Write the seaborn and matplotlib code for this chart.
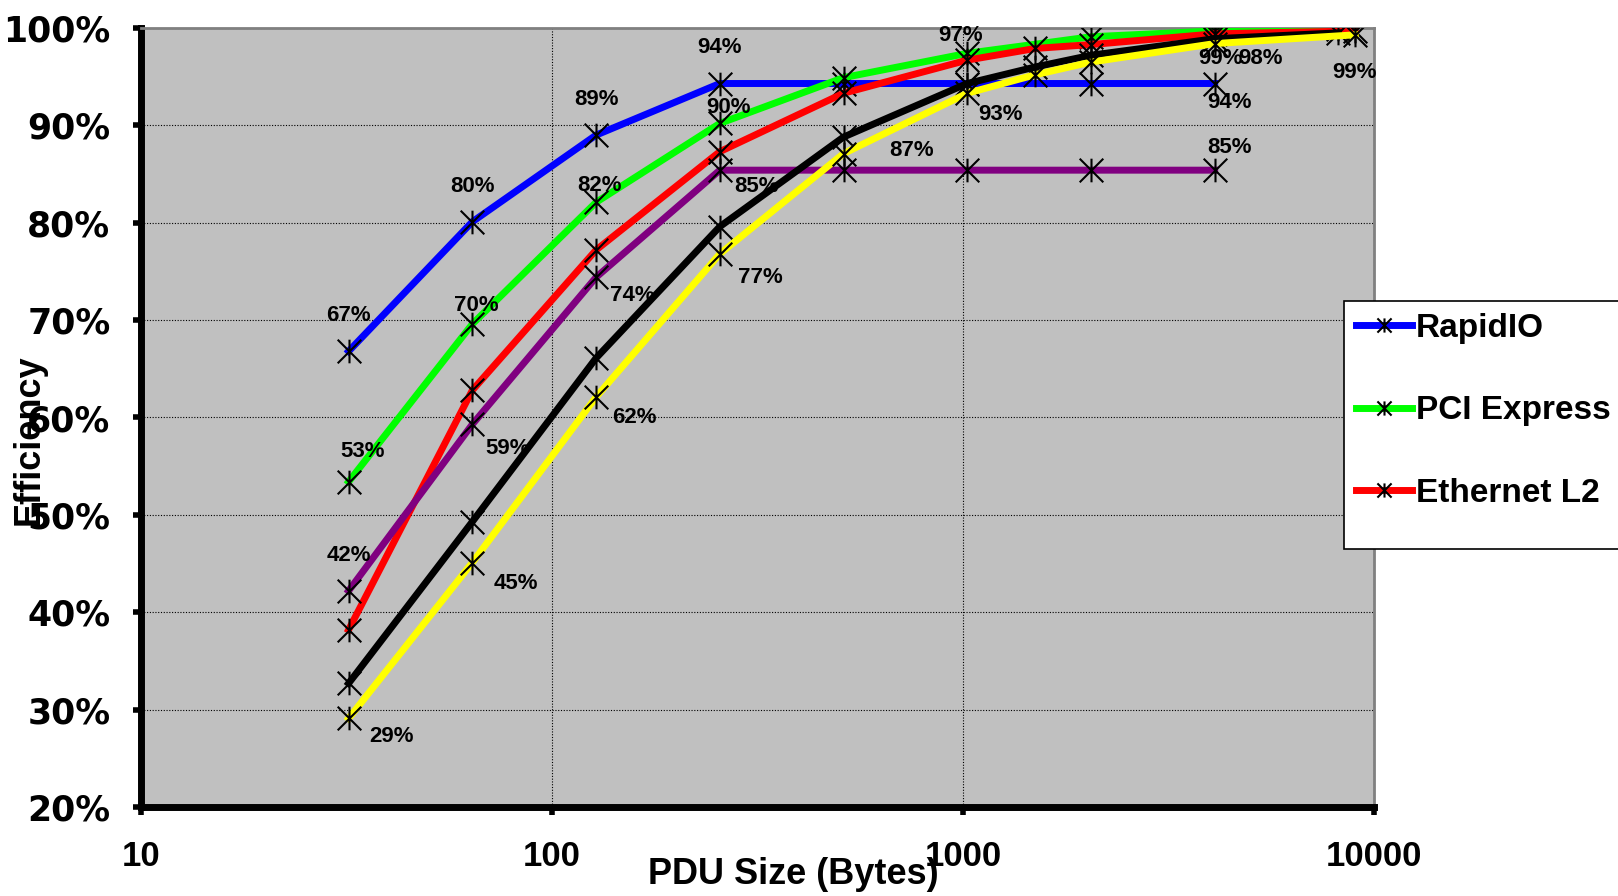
import matplotlib
matplotlib.use("Agg")
from matplotlib import pyplot as plt
from matplotlib.path import Path
from matplotlib.patches import Rectangle
from matplotlib.ticker import FixedLocator, FuncFormatter, NullLocator
import seaborn as sns

# PDU size (bytes) and efficiency (%) per series
rapidio_x = [32, 64, 128, 256, 512, 1024, 2048, 4096]
rapidio_y = [66.8, 80.1, 89.0, 94.3, 94.3, 94.3, 94.3, 94.3]

pcie_x = [32, 64, 128, 256, 512, 1024, 2048, 4096, 8192]
pcie_y = [53.4, 69.6, 82.1, 90.2, 94.9, 97.4, 99.1, 99.7, 99.9]

eth_x = [32, 64, 128, 256, 512, 1024, 1500, 2048, 4096, 9000]
eth_y = [38.2, 62.8, 77.2, 87.3, 93.3, 96.7, 97.9, 98.3, 99.4, 99.7]

purple_x = [32, 64, 128, 256, 512, 1024, 2048, 4096]
purple_y = [42.2, 59.3, 74.4, 85.4, 85.4, 85.4, 85.4, 85.4]

black_x = [32, 64, 128, 256, 512, 1024, 1500, 2048, 4096, 8192]
black_y = [32.7, 49.3, 66.1, 79.6, 88.8, 94.3, 96.0, 97.2, 98.9, 99.5]

yellow_x = [32, 64, 128, 256, 512, 1024, 1500, 2048, 4096, 9000]
yellow_y = [29.1, 45.1, 62.1, 76.8, 87.1, 93.3, 95.2, 96.5, 98.4, 99.3]

legend_names = ["RapidIO", "PCI Express", "Ethernet L2"]
x_ticks = [10, 100, 1000, 10000]
y_ticks = [20, 30, 40, 50, 60, 70, 80, 90, 100]

# which points get a data label, and where the label sits (pixels, up is +)
blue_labels = {32: (0, 36), 64: (0, 35), 128: (0, 36), 256: (0, 36), 4096: (15, -19)}
green_labels = {32: (14, 30), 64: (4, 19), 128: (3, 17), 256: (9, 16), 1024: (-7, 18)}
purple_labels = {32: (0, 35), 64: (35, -24), 128: (36, -18), 256: (37, -16), 4096: (15, 23)}
black_labels = {4096: (6, -20)}
yellow_labels = {32: (43, -18), 64: (44, -21), 128: (38, -20), 256: (41, -24),
	512: (68, 3), 1024: (33, -21), 4096: (46, -15), 9000: (-1, -38)}

plt.rcParams['font.family'] = ['Liberation Sans', 'DejaVu Sans']
plt.rcParams['font.weight'] = 'bold'

# Excel style asterisk marker: an X with a vertical stroke
star = Path([(-1, -1), (1, 1), (-1, 1), (1, -1), (0, -1), (0, 1)],
	[Path.MOVETO, Path.LINETO, Path.MOVETO, Path.LINETO, Path.MOVETO, Path.LINETO])

fig = plt.figure(figsize=(16.18, 8.96), dpi=100)
ax = fig.add_axes([141 / 1618, 1 - 807 / 896, 1233 / 1618, 779 / 896])
ax.set_facecolor('#C0C0C0')

series = [
	(rapidio_x, rapidio_y, '#0000FF', 'RapidIO', blue_labels),
	(pcie_x, pcie_y, '#00FF00', 'PCI Express', green_labels),
	(eth_x, eth_y, '#FF0000', 'Ethernet L2', {}),
	(purple_x, purple_y, '#800080', '_purple', purple_labels),
	(black_x, black_y, '#000000', '_black', black_labels),
	(yellow_x, yellow_y, '#FFFF00', '_yellow', yellow_labels),
]

for xs, ys, color, name, labels in series:
	sns.lineplot(x=xs, y=ys, ax=ax, color=color, lw=5, label=name, estimator=None,
		sort=False, marker=star, markersize=17, markeredgecolor='black',
		markeredgewidth=1.5, markerfacecolor='none', legend=False, zorder=3)
	for xv, yv in zip(xs, ys):
		if xv in labels:
			dx, dy = labels[xv]
			ax.annotate(f"{yv:.0f}%", (xv, yv), xytext=(dx * 0.72, dy * 0.72),
				textcoords='offset points', ha='center', va='center',
				fontsize=16, fontweight='bold', color='black', zorder=5)

ax.set_xscale('log')
ax.set_xlim(10, 10000)
ax.set_ylim(20, 100)
ax.xaxis.set_major_locator(FixedLocator(x_ticks))
ax.xaxis.set_minor_locator(NullLocator())
ax.xaxis.set_major_formatter(FuncFormatter(lambda v, p: f"{v:.0f}"))
ax.yaxis.set_major_locator(FixedLocator(y_ticks))
ax.yaxis.set_major_formatter(FuncFormatter(lambda v, p: f"{v:.0f}%"))

ax.grid(True, which='major', color='black', linestyle=(0, (1, 1.5)), lw=0.8, zorder=1)
ax.set_axisbelow(True)

for side in ['top', 'right']:
	ax.spines[side].set_color('#808080')
	ax.spines[side].set_linewidth(2)
for side in ['left', 'bottom']:
	ax.spines[side].set_color('black')
	ax.spines[side].set_linewidth(5)

ax.tick_params(axis='both', which='major', direction='out', length=6, width=4, color='black')
ax.tick_params(axis='y', pad=16)
ax.tick_params(axis='x', pad=18)
# the y labels are a wide heavy face, the x labels a narrower one
for lab in ax.get_yticklabels():
	lab.set_fontfamily('DejaVu Sans')
	lab.set_fontweight('bold')
	lab.set_fontsize(25)
for lab in ax.get_xticklabels():
	lab.set_fontweight('bold')
	lab.set_fontsize(25)

ax.set_xlabel("PDU Size (Bytes)", fontsize=26, fontweight='bold', va='center')
ax.xaxis.set_label_coords(0.529, -0.087)
ax.set_ylabel("Efficiency", fontsize=26, fontweight='bold', va='center')
ax.yaxis.set_label_coords(-0.091, 0.472)

# legend box runs off the right edge of the picture and has room below the last entry
box = Rectangle((1344 / 1618, 1 - 549 / 896), 0.3, 248 / 896, transform=fig.transFigure,
	facecolor='white', edgecolor='black', lw=1.2, zorder=4)
fig.patches.append(box)

handles, names = ax.get_legend_handles_labels()
keep = [(h, n) for h, n in zip(handles, names) if n in legend_names]
leg = fig.legend([h for h, n in keep], [n for h, n in keep], loc='upper left',
	bbox_to_anchor=(1344 / 1618, 1 - 301 / 896), bbox_transform=fig.transFigure,
	fontsize=24, frameon=False, borderpad=0.35, labelspacing=1.55, handlelength=1.7,
	handletextpad=0.1, markerscale=0.6, borderaxespad=0)
leg.set_zorder(5)
for t in leg.get_texts():
	t.set_fontweight('bold')

fig.savefig("out.png", dpi=100)
